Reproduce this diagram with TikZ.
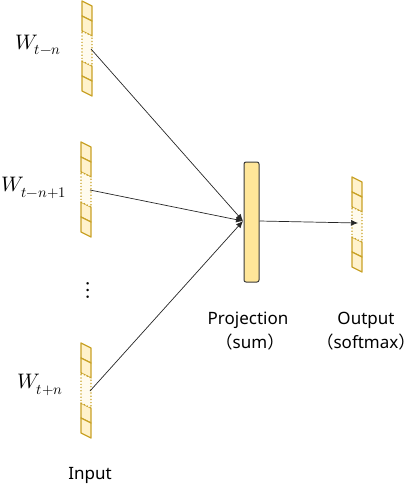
\documentclass[tikz,border=0pt]{standalone}
\usepackage{fontspec}
\usepackage{unicode-math}
\setmathfont{Latin Modern Math}
\setmainfont{Noto Sans}
\newfontfamily\cjk{Noto Sans CJK SC}
\usetikzlibrary{arrows.meta}
\definecolor{vborder}{HTML}{C9A227}
\definecolor{vfill}{HTML}{FFF2CC}
\definecolor{vlight}{HTML}{FFFBEE}
\definecolor{pfill}{HTML}{FFE699}
\definecolor{pborder}{HTML}{3A3A3A}
\newcommand{\lpar}{\kern-0.4em{\cjk （}}
\newcommand{\rpar}{{\cjk ）}\kern-0.4em}
\tikzset{
  cell/.style={draw=vborder, fill=vfill, line width=1.3pt, line join=round},
  dcell/.style={draw=vborder, fill=vlight, line width=1.2pt, dotted},
  conn/.style={draw=black!85, line width=0.7pt, -{Latex[length=7pt,width=6pt]}},
  lbl/.style={font=\fontsize{17}{20}\selectfont, inner sep=0pt},
  wl/.style={font=\fontsize{21}{23}\selectfont, inner sep=0pt},
  proj/.style={draw=pborder, fill=pfill, line width=1pt, rounded corners=2pt, minimum width=15pt, minimum height=120pt, inner sep=0pt}
}
\newcommand{\vect}[3]{% x, y0, name
  \foreach \k in {0,1,4,5} {
    \draw[cell] (#1,#2+15*\k) -- (#1+10,#2+15*\k+5) -- (#1+10,#2+15*\k+20) -- (#1,#2+15*\k+15) -- cycle;
  }
  \draw[dcell] (#1,#2+30) -- (#1+10,#2+35) -- (#1+10,#2+65) -- (#1,#2+60) -- cycle;
  \coordinate (#3) at (#1+9,#2+48);
}
\begin{document}
\begin{tikzpicture}[x=1pt,y=-1pt]
\useasboundingbox (0,0) rectangle (414,488);
\vect{82}{1}{v1}
\vect{81}{142}{v2}
\vect{81}{343}{v3}
\vect{352}{177}{vo}
\node[proj] (p) at (251.5,222) {};
\coordinate (pin) at (243,221);
\coordinate (out) at (358,223);
\draw[conn] (v1) -- (pin);
\draw[conn] (v2) -- (pin);
\draw[conn] (v3) -- (pin);
\draw[conn] (p.east |- 0,221) -- (out);
\node[wl] (l1) at (38,45) {$W_{t-n}$};
\node[wl] (l2) at (34,188) {$W_{t-n+1}$};
\node[wl] (l3) at (40,385) {$W_{t+n}$};
\node[inner sep=0pt, font=\fontsize{24}{26}\selectfont] (dots) at (88,290) {$\vdots$};
\node[lbl] (inp) at (90,475) {Input};
\node[lbl] (pr) at (248,320) {Projection};
\node[lbl] (sum) at (250,342) {\lpar sum\rpar};
\node[lbl] (op) at (366,320) {Output};
\node[lbl] (sm) at (366,342) {\lpar softmax\rpar};
\end{tikzpicture}
\end{document}
